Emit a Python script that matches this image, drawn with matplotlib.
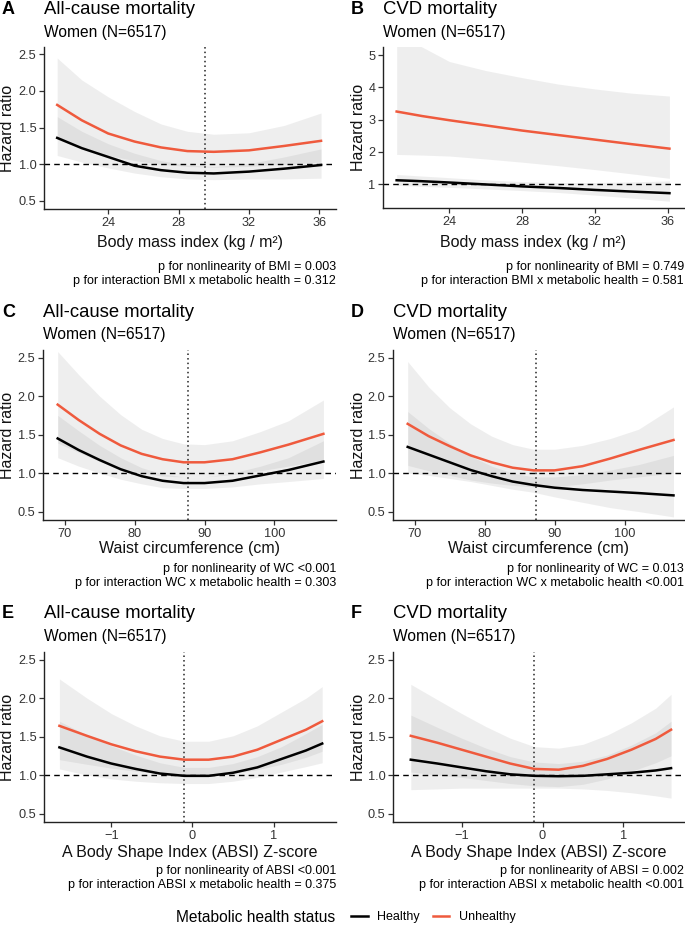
import matplotlib.pyplot as plt
from matplotlib.lines import Line2D
from matplotlib.ticker import FormatStrFormatter

plt.rcParams['font.family'] = ['Liberation Sans', 'DejaVu Sans']

RED = '#EF5A3D'
BAND = '#999999'

# A: all-cause mortality vs BMI
a_x = [21.1, 22.5, 24, 25.5, 27, 28.5, 30, 32, 34, 36.1]
a_unh = [1.81, 1.60, 1.42, 1.31, 1.23, 1.18, 1.17, 1.19, 1.25, 1.32]
a_unh_lo = [1.34, 1.22, 1.12, 1.05, 1.00, 0.97, 0.96, 0.97, 1.00, 1.03]
a_unh_hi = [2.45, 2.15, 1.92, 1.72, 1.55, 1.45, 1.41, 1.43, 1.53, 1.70]
a_hea = [1.36, 1.22, 1.10, 0.98, 0.92, 0.885, 0.875, 0.90, 0.94, 0.99]
a_hea_lo = [1.12, 1.03, 0.95, 0.88, 0.83, 0.80, 0.79, 0.80, 0.80, 0.81]
a_hea_hi = [1.65, 1.45, 1.28, 1.15, 1.05, 0.99, 0.97, 1.01, 1.10, 1.21]

# B: CVD mortality vs BMI
b_x = [21.1, 22.5, 24, 26, 28, 30, 32, 34, 36.1]
b_unh = [3.25, 3.11, 2.98, 2.82, 2.66, 2.52, 2.38, 2.24, 2.10]
b_unh_lo = [1.92, 1.90, 1.87, 1.78, 1.68, 1.57, 1.45, 1.32, 1.18]
b_unh_hi = [5.6, 5.25, 4.8, 4.52, 4.3, 4.1, 3.95, 3.82, 3.73]
b_hea = [1.12, 1.09, 1.05, 0.99, 0.93, 0.88, 0.82, 0.77, 0.72]
b_hea_lo = [0.96, 0.93, 0.90, 0.85, 0.80, 0.74, 0.66, 0.57, 0.47]
b_hea_hi = [1.30, 1.25, 1.20, 1.13, 1.08, 1.05, 1.05, 1.07, 1.10]

# C: all-cause mortality vs waist circumference
c_x = [69, 72, 75, 78, 81, 84, 87, 90, 94, 98, 102, 107]
c_unh = [1.89, 1.69, 1.51, 1.36, 1.25, 1.18, 1.14, 1.14, 1.18, 1.27, 1.37, 1.51]
c_unh_lo = [1.39, 1.27, 1.15, 1.06, 1.00, 0.96, 0.95, 0.95, 0.98, 1.03, 1.09, 1.17]
c_unh_hi = [2.58, 2.28, 2.00, 1.76, 1.57, 1.45, 1.38, 1.37, 1.42, 1.54, 1.68, 1.95]
c_hea = [1.45, 1.30, 1.17, 1.05, 0.96, 0.90, 0.87, 0.87, 0.90, 0.97, 1.04, 1.15]
c_hea_lo = [1.20, 1.09, 1.00, 0.92, 0.86, 0.81, 0.80, 0.80, 0.82, 0.86, 0.89, 0.93]
c_hea_hi = [1.75, 1.55, 1.36, 1.20, 1.07, 0.99, 0.95, 0.95, 1.00, 1.09, 1.20, 1.42]

# D: CVD mortality vs waist circumference
d_x = [69, 72, 75, 78, 81, 84, 87, 90, 94, 98, 102, 107]
d_unh = [1.64, 1.48, 1.35, 1.23, 1.14, 1.07, 1.035, 1.035, 1.09, 1.19, 1.30, 1.43]
d_unh_lo = [1.10, 1.03, 0.97, 0.91, 0.87, 0.84, 0.82, 0.82, 0.86, 0.91, 0.95, 1.00]
d_unh_hi = [2.45, 2.12, 1.85, 1.64, 1.48, 1.37, 1.31, 1.31, 1.36, 1.45, 1.57, 1.86]
d_hea = [1.34, 1.24, 1.14, 1.04, 0.96, 0.89, 0.845, 0.81, 0.78, 0.76, 0.74, 0.71]
d_hea_lo = [1.00, 0.97, 0.93, 0.89, 0.84, 0.79, 0.75, 0.69, 0.62, 0.55, 0.50, 0.43]
d_hea_hi = [1.80, 1.58, 1.39, 1.22, 1.09, 1.00, 0.95, 0.95, 0.98, 1.04, 1.11, 1.23]

# E: all-cause mortality vs ABSI z-score
e_x = [-1.64, -1.3, -1.0, -0.7, -0.4, -0.1, 0.2, 0.5, 0.8, 1.1, 1.4, 1.6]
e_unh = [1.64, 1.51, 1.40, 1.31, 1.24, 1.20, 1.20, 1.24, 1.33, 1.46, 1.59, 1.70]
e_unh_lo = [1.20, 1.14, 1.09, 1.05, 1.02, 1.00, 1.00, 1.02, 1.07, 1.14, 1.23, 1.31]
e_unh_hi = [2.25, 2.00, 1.80, 1.64, 1.51, 1.44, 1.44, 1.51, 1.64, 1.82, 2.00, 2.15]
e_hea = [1.36, 1.24, 1.15, 1.08, 1.02, 0.99, 0.99, 1.03, 1.10, 1.21, 1.32, 1.41]
e_hea_lo = [1.08, 1.00, 0.95, 0.92, 0.90, 0.89, 0.89, 0.92, 0.97, 1.04, 1.11, 1.16]
e_hea_hi = [1.70, 1.52, 1.38, 1.26, 1.16, 1.10, 1.10, 1.15, 1.24, 1.37, 1.54, 1.66]

# F: CVD mortality vs ABSI z-score
f_x = [-1.63, -1.3, -1.0, -0.7, -0.4, -0.1, 0.2, 0.5, 0.8, 1.1, 1.4, 1.59]
f_unh = [1.51, 1.42, 1.33, 1.24, 1.15, 1.08, 1.07, 1.12, 1.21, 1.33, 1.47, 1.59]
f_unh_lo = [1.04, 1.00, 0.97, 0.93, 0.89, 0.86, 0.85, 0.88, 0.95, 1.05, 1.16, 1.25]
f_unh_hi = [2.18, 1.98, 1.80, 1.63, 1.48, 1.37, 1.35, 1.40, 1.52, 1.68, 1.87, 2.05]
f_hea = [1.20, 1.15, 1.10, 1.05, 1.01, 0.99, 0.985, 0.99, 1.01, 1.03, 1.06, 1.09]
f_hea_lo = [0.81, 0.82, 0.83, 0.83, 0.83, 0.83, 0.83, 0.82, 0.80, 0.77, 0.73, 0.70]
f_hea_hi = [1.78, 1.62, 1.48, 1.35, 1.24, 1.17, 1.15, 1.18, 1.26, 1.39, 1.55, 1.70]

# reference values (dotted lines), None = no line
ref_values = [29.5, None, 87.7, 87.3, -0.1, -0.1]

letters = ['A', 'B', 'C', 'D', 'E', 'F']
titles = ['All-cause mortality', 'CVD mortality'] * 3
subtitle = 'Women (N=6517)'
xlabels = ['Body mass index (kg / m²)'] * 2 + ['Waist circumference (cm)'] * 2 + \
          ['A Body Shape Index (ABSI) Z-score'] * 2
p_texts = [
    ('p for nonlinearity of BMI = 0.003', 'p for interaction BMI x metabolic health = 0.312'),
    ('p for nonlinearity of BMI = 0.749', 'p for interaction BMI x metabolic health = 0.581'),
    ('p for nonlinearity of WC <0.001', 'p for interaction WC x metabolic health = 0.303'),
    ('p for nonlinearity of WC = 0.013', 'p for interaction WC x metabolic health <0.001'),
    ('p for nonlinearity of ABSI <0.001', 'p for interaction ABSI x metabolic health = 0.375'),
    ('p for nonlinearity of ABSI = 0.002', 'p for interaction ABSI x metabolic health <0.001'),
]

W, H = 685, 925
# panel boxes in pixels: left, top, right, bottom
boxes = [(44, 47, 336, 209), (383, 47, 684, 208),
         (43, 350, 336, 520), (393, 350, 684, 520),
         (44, 652, 336, 822), (393, 652, 684, 822)]
title_base = [14, 14, 317, 317, 618, 618]
sub_base = [37, 37, 339, 339, 641, 641]
xlab_y = [242, 242, 548, 548, 852, 852]
p_base = [270, 270, 572, 572, 874, 874]


def fx(px):
    return px / W


def fy(py):
    return 1 - py / H


def draw_panel(ax, x, hea, hea_lo, hea_hi, unh, unh_lo, unh_hi, ref):
    ax.fill_between(x, unh_lo, unh_hi, color=BAND, alpha=0.16, lw=0)
    ax.fill_between(x, hea_lo, hea_hi, color=BAND, alpha=0.16, lw=0)
    ax.axhline(1, color='black', ls=(0, (4, 3)), lw=1.0, zorder=2)
    if ref is not None:
        ax.axvline(ref, color='#222222', ls=(0, (1, 2)), lw=1.1, zorder=2)
    ax.plot(x, hea, color='black', lw=1.8, zorder=3)
    ax.plot(x, unh, color=RED, lw=1.8, zorder=3)
    for s in ['top', 'right']:
        ax.spines[s].set_visible(False)
    for s in ['left', 'bottom']:
        ax.spines[s].set_linewidth(1.0)
        ax.spines[s].set_color('#222222')
    ax.tick_params(direction='out', length=3.5, width=0.9, color='#333333',
                   labelsize=9.2, labelcolor='#333333', pad=2)


fig = plt.figure(figsize=(W / 100, H / 100), dpi=100)

panels = [
    (a_x, a_hea, a_hea_lo, a_hea_hi, a_unh, a_unh_lo, a_unh_hi),
    (b_x, b_hea, b_hea_lo, b_hea_hi, b_unh, b_unh_lo, b_unh_hi),
    (c_x, c_hea, c_hea_lo, c_hea_hi, c_unh, c_unh_lo, c_unh_hi),
    (d_x, d_hea, d_hea_lo, d_hea_hi, d_unh, d_unh_lo, d_unh_hi),
    (e_x, e_hea, e_hea_lo, e_hea_hi, e_unh, e_unh_lo, e_unh_hi),
    (f_x, f_hea, f_hea_lo, f_hea_hi, f_unh, f_unh_lo, f_unh_hi),
]
xlims = [(20.35, 36.95), (20.35, 36.9), (66.9, 108.8), (66.9, 108.5),
         (-1.83, 1.77), (-1.85, 1.75)]
xticks = [[24, 28, 32, 36]] * 2 + [[70, 80, 90, 100]] * 2 + [[-1, 0, 1]] * 2

for i, data in enumerate(panels):
    l, t, r, b = boxes[i]
    ax = fig.add_axes([fx(l), fy(b), (r - l) / W, (b - t) / H])
    draw_panel(ax, *data, ref_values[i])
    ax.set_xlim(*xlims[i])
    ax.set_xticks(xticks[i])
    if i == 1:
        ax.set_ylim(0.26, 5.25)
        ax.set_yticks([1, 2, 3, 4, 5])
        ax.yaxis.set_major_formatter(FormatStrFormatter('%d'))
    else:
        ax.set_ylim(0.39, 2.6)
        ax.set_yticks([0.5, 1.0, 1.5, 2.0, 2.5])
        ax.yaxis.set_major_formatter(FormatStrFormatter('%.1f'))

    # labels and titles
    fig.text(fx((l + r) / 2), fy(xlab_y[i]), xlabels[i], ha='center', va='center',
             fontsize=11.5, color='#111111')
    ylab_x = 8 if i % 2 == 0 else 358
    fig.text(fx(ylab_x), fy((t + b) / 2), 'Hazard ratio', rotation=90, ha='center',
             va='center', fontsize=11.5, color='#111111')
    letter_x = 2 if i % 2 == 0 else 351
    fig.text(fx(letter_x), fy(title_base[i]), letters[i], fontsize=13,
             fontweight='bold', va='baseline')
    fig.text(fx(l), fy(title_base[i]), titles[i], fontsize=13.3, va='baseline')
    fig.text(fx(l), fy(sub_base[i]), subtitle, fontsize=11.2, va='baseline')
    p1, p2 = p_texts[i]
    fig.text(fx(r), fy(p_base[i]), p1, fontsize=9, ha='right', va='baseline')
    fig.text(fx(r), fy(p_base[i] + 14), p2, fontsize=9, ha='right', va='baseline')

# legend at the bottom
fig.text(fx(335), fy(917), 'Metabolic health status', fontsize=11.2, ha='right',
         va='center')
handles = [Line2D([], [], color='black', lw=1.8),
           Line2D([], [], color=RED, lw=1.8)]
fig.legend(handles, ['Healthy', 'Unhealthy'], ncol=2, frameon=False,
           loc='center left', bbox_to_anchor=(fx(340), fy(917)), fontsize=9,
           handlelength=1.3, handletextpad=0.8, columnspacing=1.0)

fig.savefig('out.png', dpi=100)
